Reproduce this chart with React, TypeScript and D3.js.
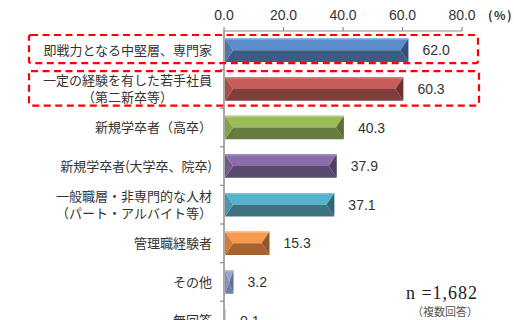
import React from "react";
import * as d3 from "d3";

const categories = [
  ["即戦力となる中堅層、専門家"],
  ["一定の経験を有した若手社員", "（第二新卒等）"],
  ["新規学卒者（高卒）"],
  ["新規学卒者(大学卒、院卒)"],
  ["一般職層・非専門的な人材", "（パート・アルバイト等）"],
  ["管理職経験者"],
  ["その他"],
  ["無回答"],
];
const values = [62.0, 60.3, 40.3, 37.9, 37.1, 15.3, 3.2, 0.1];
const xTicks = [0, 20, 40, 60, 80];
const topColors = ["#5b8bc9", "#c85c59", "#9bbb59", "#8a6caa", "#55b2cc", "#f89a4c", "#95a9d0", "#eec4c3"];
const bottomColors = ["#3e5b81", "#7f3d3b", "#687b3f", "#5b4a70", "#3f7383", "#a6632f", "#6c7fa5", "#d9a3a2"];
const leftColors = ["#4b76aa", "#a64c49", "#85a24b", "#725a92", "#4899af", "#d27c39", "#8093bb", "#e2b3b2"];
const rightColors = ["#34507a", "#6e3131", "#5b6e34", "#4e3f63", "#336775", "#945729", "#5e7096", "#cf9998"];
const highlightColors = ["#7aa3d6", "#d77a77", "#b3cd7c", "#a088bd", "#7ac4d8", "#fbb57b", "#b0c0de", "#f5d6d5"];

export default function App() {
  const W = 514, H = 320;
  const x = d3.scaleLinear().domain([0, 80]).range([224, 462]);
  const idx = categories.map((_, i) => String(i));
  const y = d3.scaleBand().domain(idx).range([31, 31 + 38.6 * 8]).paddingInner(0.39).paddingOuter(0.195);
  const step = y.step();
  const bw = y.bandwidth();
  const labelRight = 212;
  const fs = 13;
  const font = "'Noto Sans CJK JP', sans-serif";
  const numFont = "'Liberation Sans', Arial, sans-serif";

  const bars = values.map((v, i) => {
    const x0 = x(0) + 1;
    const x1 = Math.max(x(v), x0 + 1);
    const y0 = y(String(i))!;
    const y1 = y0 + bw;
    const ym = (y0 + y1) / 2;
    const b = Math.min(8, (x1 - x0) / 2);
    const pts = (a: number[][]) => a.map((p) => p.join(",")).join(" ");
    return (
      <g key={i}>
        <polygon points={pts([[x0, y0], [x1, y0], [x1 - b, ym], [x0 + b, ym]])} fill={topColors[i]} />
        <polygon points={pts([[x0, y1], [x1, y1], [x1 - b, ym], [x0 + b, ym]])} fill={bottomColors[i]} />
        <polygon points={pts([[x0, y0], [x0 + b, ym], [x0, y1]])} fill={leftColors[i]} />
        <polygon points={pts([[x1, y0], [x1 - b, ym], [x1, y1]])} fill={rightColors[i]} />
        <rect x={x0} y={y0} width={x1 - x0} height={1.5} fill={highlightColors[i]} />
        <text x={x1 + 14} y={ym} dy="0.36em" fontSize={14} fontFamily={numFont} fill="#333">
          {v.toFixed(1)}
        </text>
      </g>
    );
  });

  const labels = categories.map((lines, i) => {
    const cy = y(String(i))! + bw / 2;
    if (lines.length === 1) {
      return (
        <text key={i} x={labelRight} y={cy} dy="0.36em" textAnchor="end" fontSize={fs} fontFamily={font} fill="#333">
          {lines[0]}
        </text>
      );
    }
    const w = lines[0].length * fs;
    const cx = labelRight - w / 2;
    return (
      <g key={i}>
        {lines.map((l, j) => (
          <text key={j} x={cx} y={cy - 8.5 + j * 17} dy="0.36em" textAnchor="middle" fontSize={fs} fontFamily={font} fill="#333">
            {l}
          </text>
        ))}
      </g>
    );
  });

  const band0 = y.range()[0];
  const box1y0 = band0 + 4, box1y1 = band0 + step - 6.5;
  const box2y0 = band0 + step + 1.5, box2y1 = band0 + 2 * step - 2.5;

  return (
    <div style={{ position: "fixed", left: 0, top: 0 }}>
      <svg width={W} height={H} style={{ display: "block", background: "#fff" }}>
        <line x1={x(0)} x2={x(80)} y1={31} y2={31} stroke="#8c8c8c" strokeWidth={1.2} />
        {xTicks.map((t) => (
          <g key={t}>
            <line x1={x(t)} x2={x(t)} y1={27} y2={31} stroke="#8c8c8c" strokeWidth={1.2} />
            <text x={x(t)} y={15} dy="0.36em" textAnchor="middle" fontSize={14} fontFamily={numFont} fill="#333">
              {t.toFixed(1)}
            </text>
          </g>
        ))}
        <text x={488} y={16} dy="0.36em" fontSize={12} fontFamily={font} fontWeight="bold" fill="#333" letterSpacing={1.5}>(%)</text>
        <line x1={x(0)} x2={x(0)} y1={31} y2={H} stroke="#8c8c8c" strokeWidth={1.5} />
        {d3.range(1, 9).map((k) => (
          <line key={k} x1={x(0) - 4} x2={x(0)} y1={31 + step * k} y2={31 + step * k} stroke="#8c8c8c" strokeWidth={1.2} />
        ))}
        {bars}
        {labels}
        <rect x={29} y={box1y0} width={449} height={box1y1 - box1y0} rx={2} fill="none" stroke="#ff0000" strokeWidth={2.2} strokeDasharray="7 4.5" />
        <rect x={29} y={box2y0} width={450} height={box2y1 - box2y0} rx={2} fill="none" stroke="#ff0000" strokeWidth={2.2} strokeDasharray="7 4.5" />
        <text x={442} y={293} dy="0.36em" textAnchor="middle" fontSize={18} fontFamily="'Liberation Serif', 'DejaVu Serif', serif" fill="#222" letterSpacing={1}>
          n =1,682
        </text>
        <text x={445} y={312} dy="0.36em" textAnchor="middle" fontSize={11} fontFamily={font} fill="#555">
          （複数回答）
        </text>
      </svg>
    </div>
  );
}
